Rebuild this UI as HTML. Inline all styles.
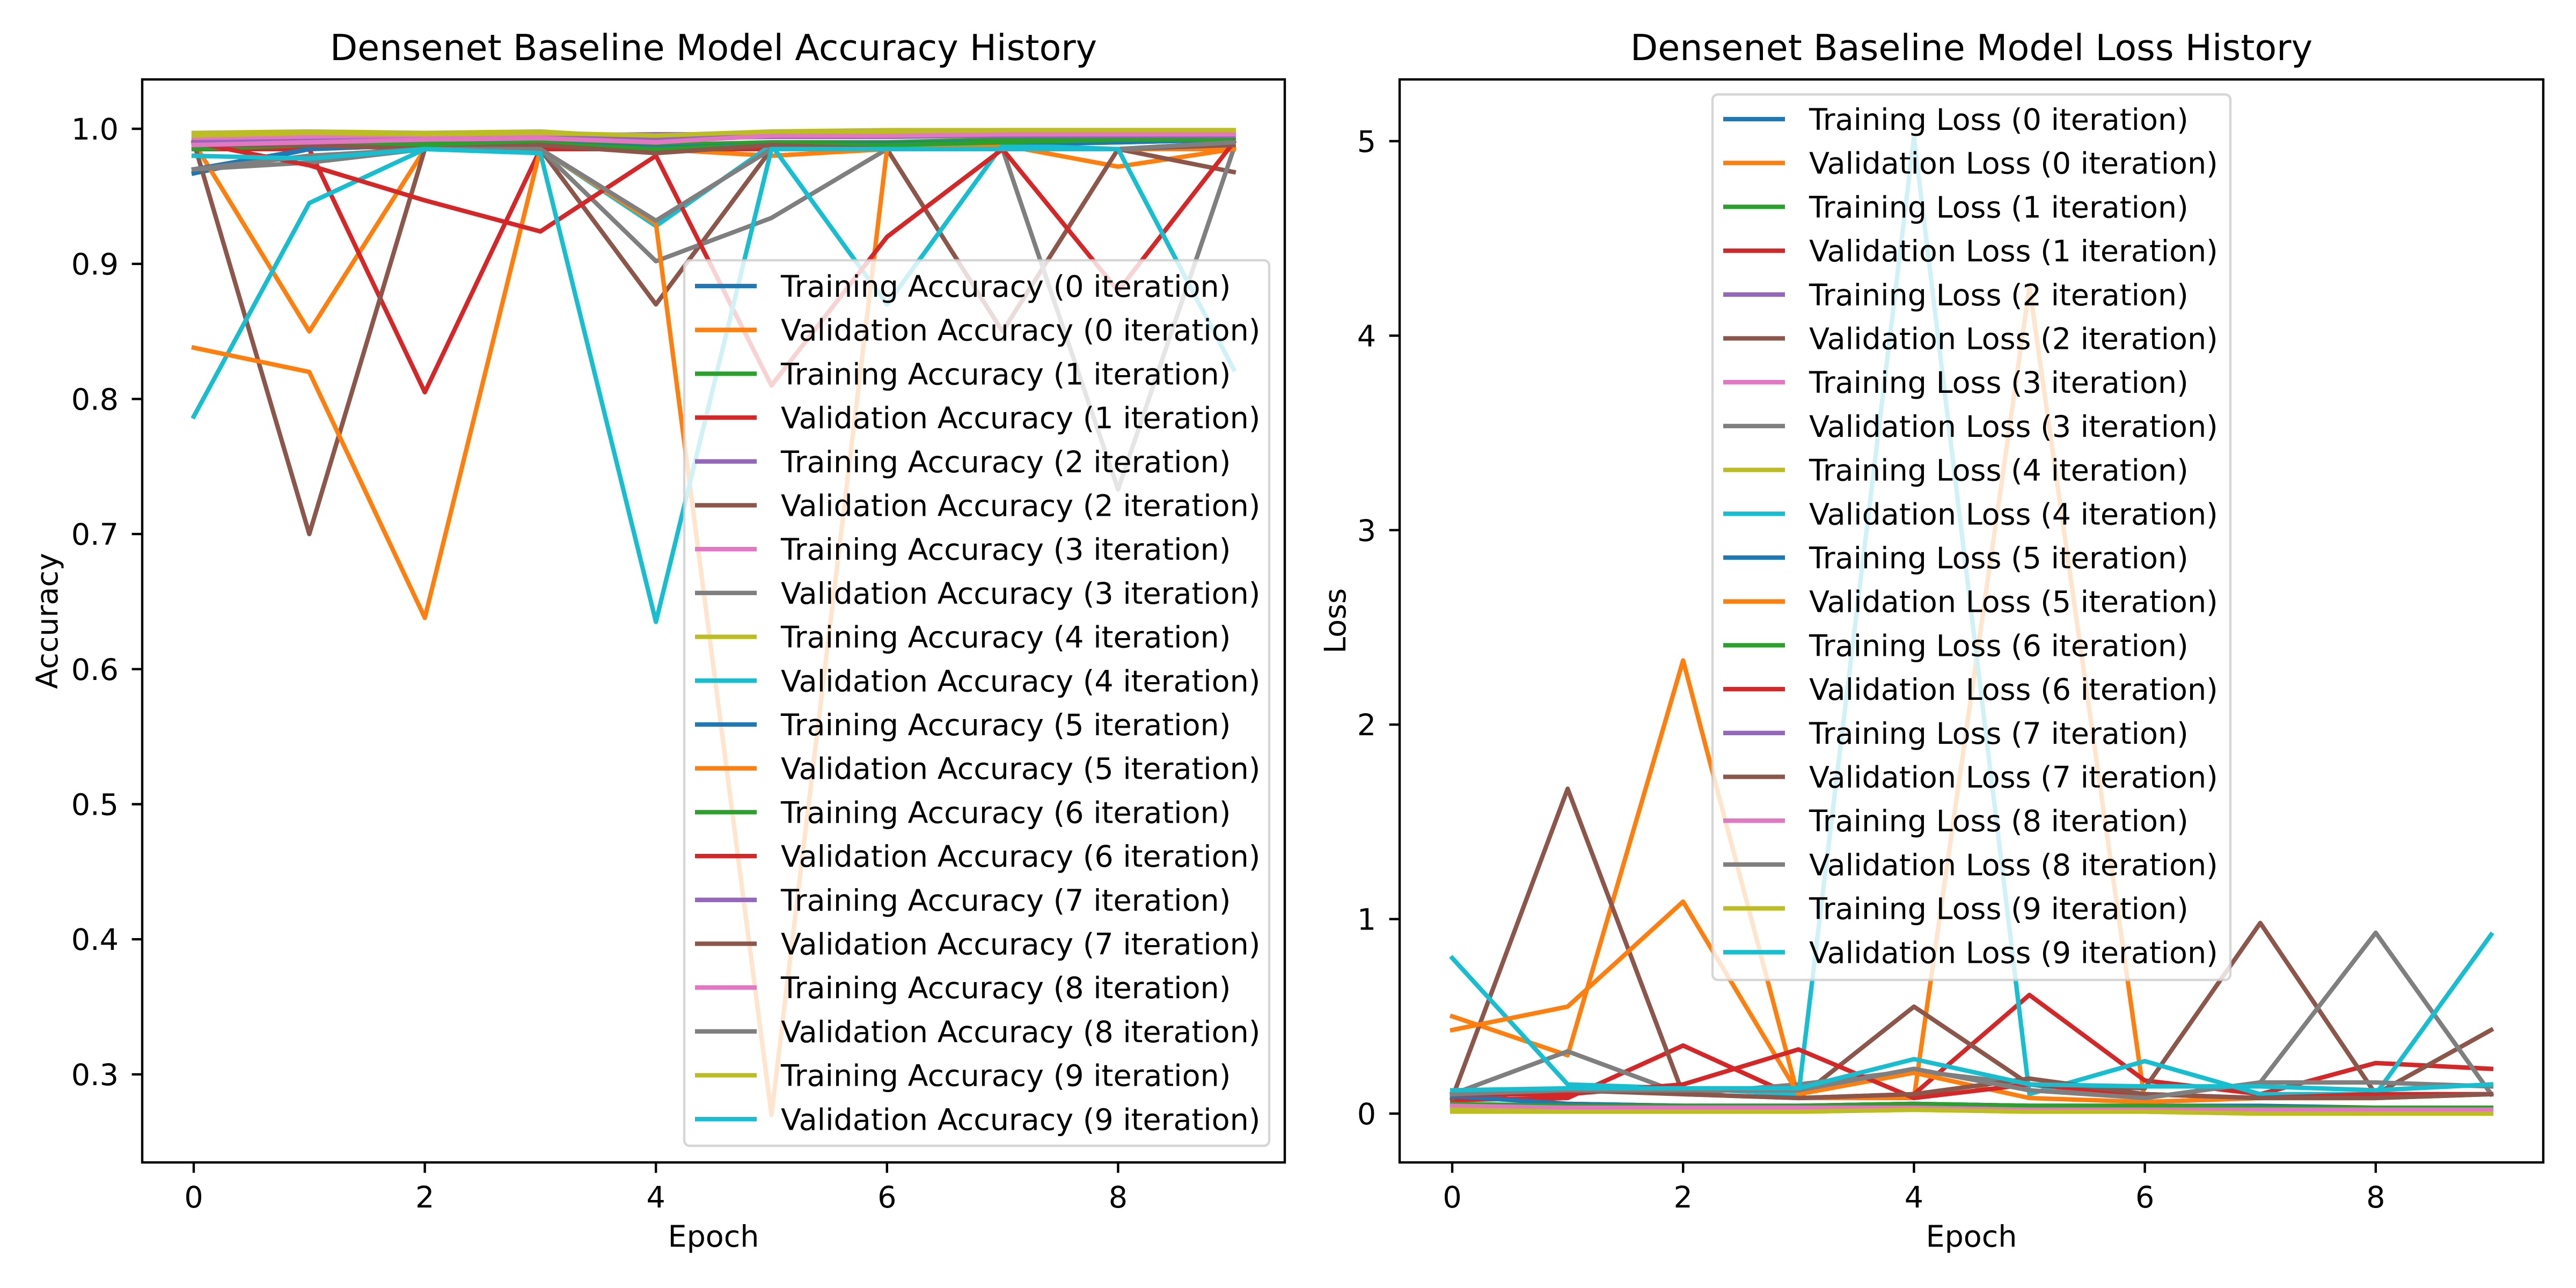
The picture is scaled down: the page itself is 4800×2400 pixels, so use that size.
<!DOCTYPE html>
<html><head><meta charset="utf-8">
<style>
html,body{margin:0;padding:0;background:#fff;}
svg{display:block;font-family:"DejaVu Sans","Liberation Sans",sans-serif;}
</style></head>
<body>
<svg id="chart" width="4800" height="2400" viewBox="0 0 4800 2400" xmlns="http://www.w3.org/2000/svg">
<rect width="4800" height="2400" fill="#fff"/>
</svg>
<script>
const epochs=[0,1,2,3,4,5,6,7,8,9];
const xTicks=[0,2,4,6,8];
const accTicks=[0.3,0.4,0.5,0.6,0.7,0.8,0.9,1.0];
const accTickLabels=["0.3","0.4","0.5","0.6","0.7","0.8","0.9","1.0"];
const lossTicks=[0,1,2,3,4,5];
const lossTickLabels=["0","1","2","3","4","5"];
const iterations=[0,1,2,3,4,5,6,7,8,9];

const trainAcc=[
[0.967,0.985,0.988,0.988,0.985,0.988,0.988,0.988,0.990,0.992],
[0.990,0.990,0.990,0.990,0.988,0.990,0.990,0.992,0.993,0.993],
[0.992,0.993,0.995,0.995,0.996,0.996,0.996,0.997,0.997,0.997],
[0.993,0.994,0.995,0.995,0.990,0.996,0.996,0.997,0.997,0.997],
[0.997,0.998,0.997,0.998,0.993,0.998,0.999,0.999,0.999,0.999],
[0.970,0.985,0.988,0.989,0.986,0.988,0.989,0.990,0.990,0.992],
[0.985,0.988,0.988,0.989,0.985,0.988,0.988,0.990,0.992,0.992],
[0.990,0.991,0.992,0.993,0.993,0.994,0.994,0.995,0.995,0.995],
[0.988,0.990,0.992,0.993,0.990,0.995,0.995,0.996,0.996,0.996],
[0.995,0.997,0.996,0.997,0.995,0.998,0.998,0.999,0.999,0.999]];
const valAcc=[
[0.990,0.850,0.985,0.985,0.985,0.980,0.985,0.988,0.972,0.985],
[0.985,0.985,0.805,0.985,0.985,0.985,0.985,0.985,0.985,0.990],
[0.990,0.700,0.985,0.985,0.870,0.985,0.985,0.850,0.985,0.968],
[0.970,0.975,0.985,0.985,0.902,0.934,0.985,0.985,0.733,0.985],
[0.787,0.945,0.985,0.985,0.928,0.988,0.870,0.988,0.985,0.985],
[0.838,0.820,0.638,0.985,0.930,0.270,0.985,0.985,0.985,0.985],
[0.990,0.973,0.947,0.924,0.980,0.810,0.920,0.985,0.880,0.990],
[0.988,0.988,0.985,0.988,0.982,0.988,0.985,0.985,0.985,0.988],
[0.970,0.980,0.985,0.985,0.932,0.985,0.985,0.985,0.985,0.990],
[0.980,0.978,0.985,0.982,0.635,0.985,0.985,0.985,0.985,0.822]];
const trainLoss=[
[0.10,0.05,0.04,0.04,0.05,0.04,0.04,0.04,0.03,0.03],
[0.04,0.04,0.03,0.03,0.04,0.03,0.03,0.03,0.02,0.02],
[0.03,0.03,0.02,0.02,0.02,0.02,0.02,0.01,0.01,0.01],
[0.03,0.03,0.02,0.02,0.03,0.02,0.02,0.01,0.01,0.01],
[0.01,0.01,0.01,0.01,0.02,0.01,0.01,0.00,0.00,0.00],
[0.09,0.05,0.04,0.04,0.05,0.04,0.04,0.03,0.03,0.03],
[0.05,0.04,0.04,0.04,0.05,0.04,0.04,0.03,0.03,0.03],
[0.04,0.03,0.03,0.03,0.03,0.02,0.02,0.02,0.02,0.02],
[0.04,0.03,0.03,0.03,0.03,0.02,0.02,0.02,0.02,0.02],
[0.02,0.01,0.01,0.01,0.02,0.01,0.01,0.00,0.00,0.00]];
const valLoss=[
[0.50,0.30,2.33,0.08,0.08,4.25,0.06,0.08,0.08,0.10],
[0.07,0.08,0.35,0.08,0.10,0.61,0.17,0.10,0.26,0.23],
[0.08,1.67,0.10,0.08,0.55,0.15,0.13,0.98,0.10,0.43],
[0.10,0.32,0.10,0.15,0.22,0.15,0.08,0.16,0.93,0.10],
[0.80,0.15,0.13,0.10,5.02,0.10,0.27,0.10,0.10,0.92],
[0.43,0.55,1.09,0.10,0.21,0.08,0.06,0.08,0.08,0.10],
[0.10,0.10,0.15,0.33,0.08,0.15,0.10,0.08,0.10,0.10],
[0.10,0.12,0.10,0.08,0.10,0.18,0.10,0.08,0.08,0.10],
[0.10,0.12,0.12,0.12,0.23,0.12,0.08,0.16,0.16,0.14],
[0.12,0.13,0.13,0.13,0.28,0.15,0.14,0.14,0.12,0.15]];

const tab=["#1f77b4","#ff7f0e","#2ca02c","#d62728","#9467bd","#8c564b","#e377c2","#7f7f7f","#bcbd22","#17becf"];
const NS="http://www.w3.org/2000/svg";
const svg=document.getElementById('chart');
const FS=55.5, TFS=66.7, LW=8.3, SW=4.4, TL=19.4;
function mk(tag,attrs,parent){const e=document.createElementNS(NS,tag);for(const k in attrs)e.setAttribute(k,attrs[k]);(parent||svg).appendChild(e);return e;}

function drawPanel(cfg){
  const g=mk('g',{});
  
  
  const X=v=>cfg.x0+(v-0)*cfg.xs;
  const Y=v=>cfg.yRef+(cfg.vRef-v)*cfg.ys;
  const series=[];
  iterations.forEach(i=>{
    series.push({label:'Training '+cfg.kind+' ('+i+' iteration)',data:cfg.train[i],color:tab[(2*i)%10],nm:'training-'+cfg.kind.toLowerCase()+'-line-iter-'+i});
    series.push({label:'Validation '+cfg.kind+' ('+i+' iteration)',data:cfg.val[i],color:tab[(2*i+1)%10],nm:'validation-'+cfg.kind.toLowerCase()+'-line-iter-'+i});
  });
  const clipId='clip-'+cfg.name;
  const cp=mk('clipPath',{id:clipId},g);
  mk('rect',{x:cfg.L,y:cfg.T,width:cfg.R-cfg.L,height:cfg.B-cfg.T},cp);
  const lg=mk('g',{'clip-path':'url(#'+clipId+')'},g);
  series.forEach(s=>{
    const pts=epochs.map((e,k)=>X(e).toFixed(1)+','+Y(s.data[k]).toFixed(1)).join(' ');
    const p=mk('polyline',{points:pts,fill:'none',stroke:s.color,'stroke-width':LW,'stroke-linejoin':'round','stroke-linecap':'square'},lg);
    
    
  });
  const fr=mk('rect',{x:cfg.L,y:cfg.T,width:cfg.R-cfg.L,height:cfg.B-cfg.T,fill:'none',stroke:'#000','stroke-width':SW},g);
  
  
  xTicks.forEach(t=>{
    const x=X(t);
    mk('line',{x1:x,y1:cfg.B,x2:x,y2:cfg.B+TL,stroke:'#000','stroke-width':SW},g);
    const tx=mk('text',{x:x,y:2250,'font-size':FS,'text-anchor':'middle',fill:'#000'},g);
    tx.textContent=String(t);
    
    
  });
  cfg.yticks.forEach((t,k)=>{
    const y=Y(t);
    mk('line',{x1:cfg.L,y1:y,x2:cfg.L-TL,y2:y,stroke:'#000','stroke-width':SW},g);
    const tx=mk('text',{x:cfg.L-44,y:y+20,'font-size':FS,'text-anchor':'end',fill:'#000'},g);
    tx.textContent=cfg.ylabels[k];
    
    
  });
  const xl=mk('text',{x:(cfg.L+cfg.R)/2,y:2323,'font-size':FS,'text-anchor':'middle',fill:'#000'},g);
  xl.textContent='Epoch';
  
  
  const yl=mk('text',{x:0,y:0,'font-size':FS,'text-anchor':'middle',fill:'#000',transform:'translate('+(cfg.ylx)+','+((cfg.T+cfg.B)/2)+') rotate(-90)'},g);
  yl.textContent=cfg.ytitle;
  
  
  const ti=mk('text',{x:(cfg.L+cfg.R)/2,y:112,'font-size':TFS,'text-anchor':'middle',fill:'#000'},g);
  ti.textContent=cfg.title;
  
  
  const leg=mk('g',{},g);
  
  
  mk('rect',{x:cfg.lgx,y:cfg.lgy,width:cfg.lgw,height:cfg.lgh,rx:10,fill:'#fff','fill-opacity':0.8,stroke:'#cccccc','stroke-opacity':0.8,'stroke-width':SW},leg);
  series.forEach((s,k)=>{
    const y=cfg.lg0+k*81.7;
    const e=mk('g',{},leg);
    
    
    mk('line',{x1:cfg.lgx+20,y1:y,x2:cfg.lgx+135,y2:y,stroke:s.color,'stroke-width':LW},e);
    const t=mk('text',{x:cfg.lgx+180,y:y+20,'font-size':FS,fill:'#000'},e);
    t.textContent=s.label;
  });
}

drawPanel({name:'accuracy-panel',kind:'Accuracy',train:trainAcc,val:valAcc,
  L:265,R:2394,T:148,B:2166,x0:361,xs:215.3,yRef:240,vRef:1.0,ys:2517,
  yticks:accTicks,ylabels:accTickLabels,ytitle:'Accuracy',ylx:107,
  title:'Densenet Baseline Model Accuracy History',
  lgx:1275,lgy:485,lgw:1090,lgh:1650,lg0:533});
drawPanel({name:'loss-panel',kind:'Loss',train:trainLoss,val:valLoss,
  L:2608,R:4739,T:148,B:2166,x0:2706,xs:215.1,yRef:2075,vRef:0,ys:362.4,
  yticks:lossTicks,ylabels:lossTickLabels,ytitle:'Loss',ylx:2507,
  title:'Densenet Baseline Model Loss History',
  lgx:3191,lgy:176,lgw:965,lgh:1650,lg0:222});
</script>
</body></html>
